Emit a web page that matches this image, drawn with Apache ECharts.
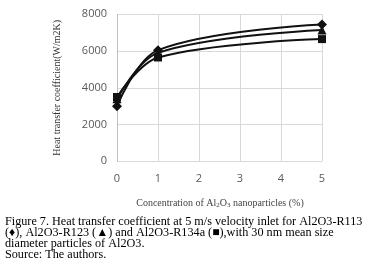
<!DOCTYPE html>
<html><head><meta charset="utf-8">
<script src="https://cdn.jsdelivr.net/npm/echarts@6/dist/echarts.min.js"></script>
<style>html,body{margin:0;padding:0;background:#fff}#c{width:376px;height:273px}</style>
</head><body><div id="c"></div>
<script>
var concentrations = [0, 1, 5];
var r113 = [3000, 6050, 7450];
var r123 = [3400, 5900, 7150];
var r134a = [3500, 5650, 6650];
var xTicks = [0, 1, 2, 3, 4, 5];
var yTicks = [0, 2000, 4000, 6000, 8000];

function pts(v){ return concentrations.map(function(c,i){ return [c, v[i]]; }); }
var chart = echarts.init(document.getElementById('c'), null, {renderer:'canvas'});
var lineStyle = {color:'#111', width:2};
var capFont = '12.2px "Liberation Serif"';
chart.setOption({
  animation:false,
  grid:{left:117, right:54, top:14.3, bottom:111.7},
  xAxis:{type:'value', min:0, max:5, interval:1,
    axisLine:{show:false}, axisTick:{show:false},
    splitLine:{show:true, lineStyle:{color:'#d9d9d9', width:1}},
    axisLabel:{color:'#595959', fontFamily:'Open Sans', fontSize:11, margin:12,
      formatter:function(v){ return xTicks.indexOf(v) >= 0 ? String(v) : ''; }}},
  yAxis:{type:'value', min:0, max:8000, interval:2000,
    name:'Heat transfer coefficient(W/m2K)', nameLocation:'middle', nameGap:55,
    nameTextStyle:{fontFamily:'Liberation Serif', fontSize:10, color:'#333'},
    axisLine:{show:true, lineStyle:{color:'#bfbfbf'}}, axisTick:{show:false},
    splitLine:{show:true, lineStyle:{color:'#d9d9d9', width:1}},
    axisLabel:{color:'#595959', fontFamily:'Open Sans', fontSize:11, margin:10,
      formatter:function(v){ return yTicks.indexOf(v) >= 0 ? String(v) : ''; }}},
  series:[
    {type:'line', smooth:0.35, data:pts(r113), symbol:'diamond', symbolSize:10, lineStyle:lineStyle, itemStyle:{color:'#111'}},
    {type:'line', smooth:0.35, data:pts(r123), symbol:'triangle', symbolSize:9, lineStyle:lineStyle, itemStyle:{color:'#111'}},
    {type:'line', smooth:0.35, data:pts(r134a), symbol:'rect', symbolSize:8, lineStyle:lineStyle, itemStyle:{color:'#111'}}
  ],
  graphic:[
    {type:'text', x:220, y:203,
      style:{text:'{n|Concentration of Al}{s|2}{n|O}{s|3}{n| nanoparticles (%)}', align:'center', verticalAlign:'middle',
        rich:{n:{font:'10px "Liberation Serif"', fill:'#444'}, s:{font:'7px "Liberation Serif"', fill:'#444', padding:[5,0,0,0]}}}},
    {type:'text', x:5, y:221.7, style:{text:'Figure 7. Heat transfer coefficient at 5 m/s velocity inlet for Al2O3-R113', font:capFont, fill:'#000', verticalAlign:'middle'}},
    {type:'text', x:5, y:232.9, style:{text:'(\u2666), Al2O3-R123 (\u25B2) and Al2O3-R134a (\u25A0),with 30 nm mean size', font:capFont, fill:'#000', verticalAlign:'middle'}},
    {type:'text', x:5, y:244.1, style:{text:'diameter particles of Al2O3.', font:capFont, fill:'#000', verticalAlign:'middle'}},
    {type:'text', x:5, y:255.3, style:{text:'Source: The authors.', font:capFont, fill:'#000', verticalAlign:'middle'}}
  ]
});
</script></body></html>
